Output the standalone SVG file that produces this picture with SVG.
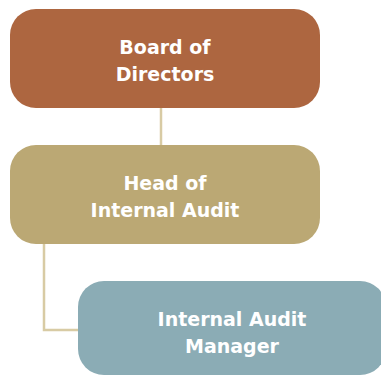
<svg xmlns="http://www.w3.org/2000/svg" width="381" height="376" viewBox="0 0 381 376">
<style>
.lbl{font-family:"DejaVu Sans",sans-serif;font-weight:bold;font-size:19px;fill:#ffffff;text-anchor:middle}
.conn{fill:none;stroke:#d8cba4;stroke-width:2.5}
</style>
<rect width="381" height="376" fill="#ffffff"/>
<g id="connectors">
<path class="conn" d="M161 108 V145"/>
<path class="conn" d="M44 244 V330 H79"/>
</g>
<g id="board">
<rect x="10" y="9" width="310" height="99" rx="26" fill="#ad6640"/>
<text class="lbl" x="165" y="54">Board of</text>
<text class="lbl" x="165" y="81">Directors</text>
</g>
<g id="head">
<rect x="10" y="145" width="310" height="99" rx="26" fill="#bba874"/>
<text class="lbl" x="165" y="190">Head of</text>
<text class="lbl" x="165" y="217">Internal Audit</text>
</g>
<g id="manager">
<rect x="78" y="281" width="308" height="94" rx="26" fill="#8bacb5"/>
<text class="lbl" x="232" y="326">Internal Audit</text>
<text class="lbl" x="232" y="353">Manager</text>
</g>
</svg>
